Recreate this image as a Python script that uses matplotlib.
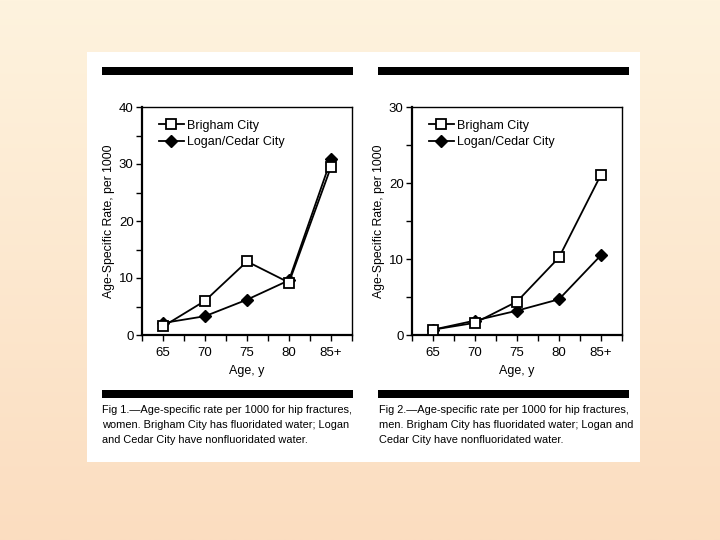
import numpy as np
import matplotlib
matplotlib.use('Agg')
import matplotlib.pyplot as plt
from matplotlib.patches import Rectangle

plt.rcParams['font.family'] = ['Liberation Sans', 'DejaVu Sans']

ages = ['65', '70', '75', '80', '85+']
women_brigham = [1.5, 6.0, 12.9, 9.2, 29.5]
women_logan = [2.1, 3.3, 6.2, 9.6, 30.8]
men_brigham = [0.7, 1.6, 4.4, 10.2, 21.1]
men_logan = [0.7, 1.9, 3.2, 4.7, 10.5]
caption1 = ('Fig 1.\u2014Age-specific rate per 1000 for hip fractures,\n'
            'women. Brigham City has fluoridated water; Logan\n'
            'and Cedar City have nonfluoridated water.')
caption2 = ('Fig 2.\u2014Age-specific rate per 1000 for hip fractures,\n'
            'men. Brigham City has fluoridated water; Logan and\n'
            'Cedar City have nonfluoridated water.')

W, H = 720, 540
fig = plt.figure(figsize=(7.2, 5.4), dpi=100)

# gradient background
bg = fig.add_axes([0, 0, 1, 1], zorder=-10)
top = np.array([254, 243, 222]) / 255
bot = np.array([251, 221, 192]) / 255
t = np.linspace(0, 1, 256)[:, None]
grad = top[None, :] * (1 - t) + bot[None, :] * t
bg.imshow(grad[:, None, :], aspect='auto', extent=[0, 1, 0, 1])
bg.set_axis_off()


def px(x0, y0, x1, y1, color):
    rr = Rectangle((x0 / W, 1 - y1 / H), (x1 - x0) / W, (y1 - y0) / H,
                   transform=fig.transFigure, facecolor=color,
                   edgecolor='none', zorder=-5)
    fig.patches.append(rr)


px(87, 52, 640, 462, 'white')
for x0, x1 in [(102, 353), (378, 629)]:
    for y0, y1 in [(67, 75), (390, 398)]:
        px(x0, y0, x1, y1, 'black')

fig.text(102 / W, 1 - 405 / H, caption1, fontsize=7.9, va='top', ha='left',
         linespacing=1.64)
fig.text(379 / W, 1 - 405 / H, caption2, fontsize=7.9, va='top', ha='left',
         linespacing=1.64)


def panel(left, brig, logan, ymax):
    ax = fig.add_axes([left / W, 1 - 335 / H, 210 / W, 228 / H], zorder=2)
    x = np.arange(len(ages))
    ax.plot(x, brig, '-', color='black', lw=1.3, marker='s', ms=6.5,
            mfc='white', mec='black', mew=1.3, label='Brigham City', zorder=3)
    ax.plot(x, logan, '-', color='black', lw=1.3, marker='D', ms=6.5,
            mfc='black', mec='black', label='Logan/Cedar City', zorder=2)
    ax.set_xlim(-0.5, 4.5)
    ax.set_ylim(0, ymax)
    ax.set_xticks(x)
    ax.set_xticklabels(ages)
    ax.set_xticks(np.arange(-0.5, 4.6, 0.5), minor=True)
    ax.set_yticks(np.arange(0, ymax + 1, 10))
    ax.set_yticks(np.arange(0, ymax + 1, 5), minor=True)
    ax.tick_params(which='both', direction='out', length=4, width=1,
                   labelsize=9.5, pad=2)
    ax.tick_params(axis='x', which='both', pad=5)
    for s in ['left', 'bottom']:
        ax.spines[s].set_linewidth(1.6)
    for s in ['top', 'right']:
        ax.spines[s].set_linewidth(1.0)
    ax.set_xlabel('Age, y', fontsize=9, labelpad=4)
    ax.set_ylabel('Age-Specific Rate, per 1000', fontsize=8.8, labelpad=3)
    ax.legend(loc='upper left', frameon=False, fontsize=9,
              handlelength=2.0, handletextpad=0.3, borderaxespad=0.6,
              labelspacing=0.35, bbox_to_anchor=(0.02, 1.0))
    return ax


panel(142, women_brigham, women_logan, 40)
panel(412, men_brigham, men_logan, 30)

fig.savefig('out.png', dpi=100)
